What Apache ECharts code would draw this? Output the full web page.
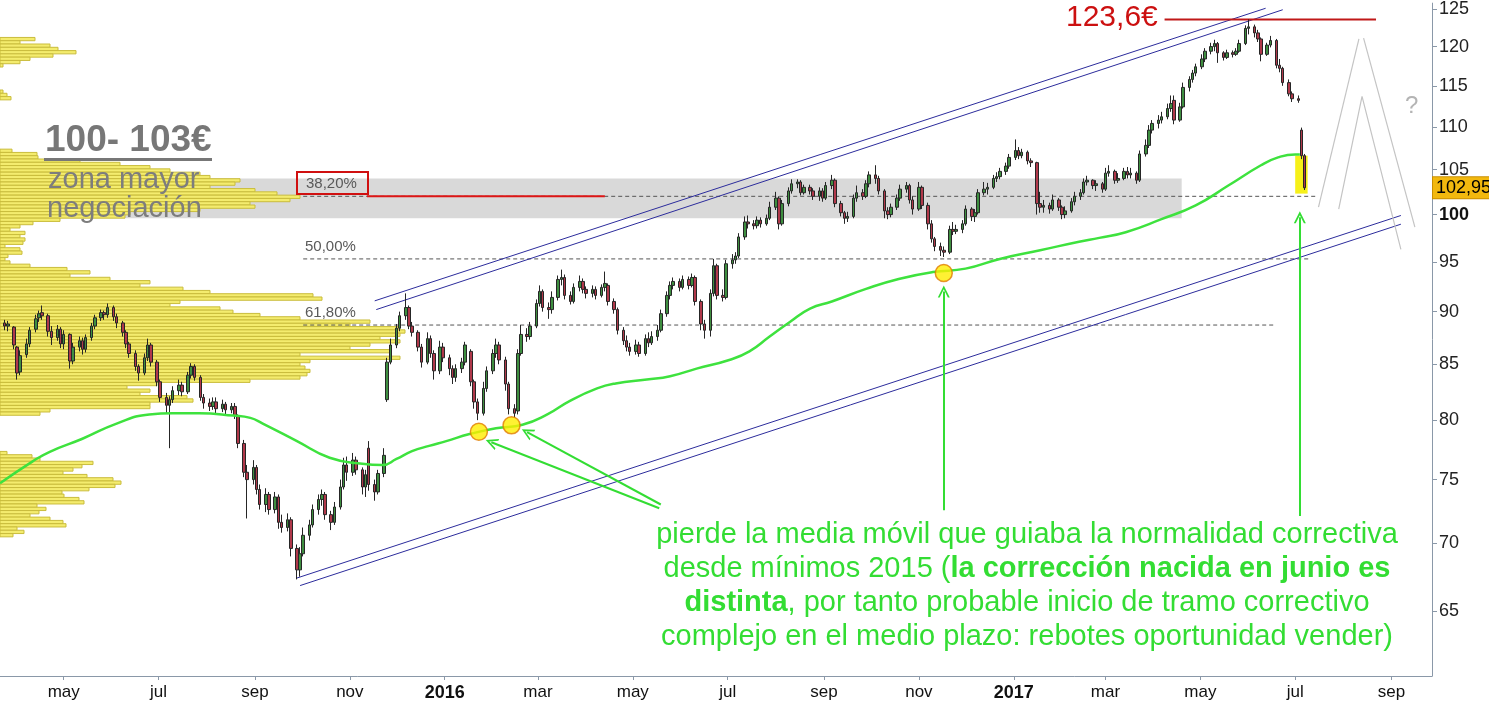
<!DOCTYPE html>
<html><head><meta charset="utf-8">
<script src="https://cdn.jsdelivr.net/npm/echarts@6/dist/echarts.min.js"></script>
<style>html,body{margin:0;padding:0;background:#fff}#c{width:1489px;height:703px}</style>
</head><body><div id="c"></div>
<script>
// ---------- DATA ----------
const monthTicks = ['2015-05-01','2015-07-01','2015-09-01','2015-11-01','2016-01-01','2016-03-01','2016-05-01','2016-07-01','2016-09-01','2016-11-01','2017-01-01','2017-03-01','2017-05-01','2017-07-01','2017-09-01'];
const monthNames = ['ene','feb','mar','abr','may','jun','jul','ago','sep','oct','nov','dic'];
const priceTicks = [65,70,75,80,85,90,95,100,105,110,115,120,125];

// one candle per two trading days, starting 2015-03-20: [open, close, low, high]
const ohlcA = [
[88.4,88.9,88.1,89.3],[88.9,88.6,88.2,89.2],[88.6,88.8,88.1,89.1],[88.5,86.8,86.4,88.6],[86.6,84.2,83.6,86.7],[84.3,85.8,84.0,86.3],[85.9,86.9,85.6,87.4],[86.9,88.2,86.6,88.5],[88.3,89.3,88.0,89.7],[89.4,89.8,89.0,90.1],
[89.9,89.6,89.2,90.6],[89.6,88.1,87.6,89.8],[88.1,87.5,86.8,88.6],[87.5,88.3,87.2,88.7],[88.3,86.9,86.5,88.5],[86.9,87.8,86.4,88.2],[87.8,85.3,84.6,87.9],[85.3,86.6,85.0,87.0],[86.6,87.2,86.2,87.6],[87.2,86.4,85.9,87.5],
[86.4,87.5,86.1,87.8],[87.5,88.6,87.2,88.9],[88.6,89.4,88.3,89.7],[89.4,89.9,89.1,90.2],[89.9,89.7,89.2,90.1],[89.7,90.4,89.4,90.8],[90.4,89.5,89.1,90.6],[89.5,88.9,88.4,89.8],[88.9,88.0,87.6,89.1],[88.0,86.9,86.5,88.2],
[86.9,86.0,85.6,87.1],[86.0,84.8,84.4,86.3],[84.8,84.2,83.5,85.0],[84.2,85.6,84.0,86.0],[85.6,86.8,85.3,87.4],[86.8,85.2,84.8,87.0],[85.2,83.4,83.0,85.4],[83.4,82.0,81.6,83.6],[82.0,81.3,80.6,82.4],[81.3,81.8,77.6,82.1],
[81.8,82.6,81.5,83.0],[82.6,83.1,82.2,83.6],[83.1,82.5,82.1,83.4],[82.5,84.0,82.3,84.3],[84.0,84.8,83.7,85.1],[84.8,83.8,83.5,85.0],[83.8,82.0,81.7,84.0],[82.0,81.5,81.0,82.3],[81.5,81.2,80.8,81.9],[81.2,81.6,80.9,82.0],
[81.6,81.0,80.6,82.0],[81.0,81.4,80.7,81.8],[81.4,80.9,80.5,81.6],[80.9,81.2,80.6,81.5],[81.2,80.4,80.1,81.5],[80.4,78.0,77.6,80.5],[78.0,75.6,75.2,78.3],[75.6,75.0,71.9,76.2],[75.0,76.0,74.6,76.6],[76.0,74.2,73.8,76.2],
[74.2,73.0,72.6,74.6],[73.0,73.8,72.4,74.3],[73.8,72.6,72.2,74.0],[72.6,73.6,72.3,74.0],[73.6,71.6,71.1,73.8],[71.6,71.2,70.8,72.2],[71.2,71.8,70.9,72.3],[71.8,69.6,69.0,72.0],[69.6,68.0,67.3,69.9],[68.0,69.2,67.5,69.7],
[69.2,70.6,69.0,71.2],[70.6,71.4,70.2,71.8],[71.4,72.6,71.2,73.0],[72.6,73.4,72.2,73.8],[73.4,73.8,72.9,74.2],[73.8,72.2,71.8,74.0],[72.2,71.6,71.0,72.5],[71.6,72.8,71.4,73.2],[72.8,74.4,72.6,75.0],[74.4,76.2,74.2,76.8],
[76.2,75.6,74.9,76.9],[75.6,76.6,75.3,77.2],[76.6,75.8,75.4,76.9],[75.8,74.4,73.8,76.0],[74.4,75.4,73.6,75.8],[77.6,74.6,74.1,78.2],[74.6,74.0,73.3,75.0],[74.0,75.5,73.8,75.8],[75.5,77.0,75.2,77.6],[81.8,85.2,81.6,85.6],
[85.2,86.8,85.0,87.4],[86.8,88.4,86.5,88.8],[88.4,89.6,88.1,90.0],[89.6,90.4,89.2,91.8],[90.4,88.6,88.3,90.6],[88.6,88.0,87.6,89.0],[88.0,86.6,86.2,88.2],[86.6,85.2,84.7,86.9],[85.2,87.4,85.0,88.0],[87.4,86.0,85.6,87.7]
];
const ohlcB = [
[86.0,84.4,83.6,86.3],[84.4,86.6,84.1,87.2],[86.6,85.6,85.2,87.0],[85.6,84.6,84.0,85.9],[84.6,83.8,83.2,84.9],[83.8,84.6,83.4,85.0],[84.6,85.2,84.2,85.6],[85.2,86.8,84.9,87.1],[86.2,83.4,83.0,86.4],[83.4,81.6,81.0,83.6],
[81.6,80.6,80.0,81.9],[80.6,82.8,80.4,83.4],[82.8,84.4,82.5,84.8],[84.4,86.0,84.1,86.4],[86.0,86.8,85.6,87.4],[86.8,85.4,85.0,87.1],[85.4,83.2,82.6,85.7],[83.2,81.0,80.5,83.4],[81.0,80.6,80.2,81.4],[80.8,86.0,80.5,86.4],
[86.0,87.8,85.8,88.7],[87.8,87.6,87.1,88.4],[87.6,88.6,87.3,89.0],[88.6,90.8,88.4,91.2],[90.8,92.0,90.5,92.6],[92.0,90.4,90.0,92.2],[90.4,90.2,89.3,90.9],[90.2,91.4,89.8,92.0],[91.4,93.2,91.1,93.6],[93.2,93.4,92.6,94.2],
[93.4,91.6,91.2,93.7],[91.6,91.0,90.7,92.0],[91.0,92.4,90.8,92.8],[92.4,93.0,92.0,93.6],[93.0,92.2,91.8,93.3],[92.2,91.8,91.3,92.5],[91.8,92.2,91.4,92.6],[92.2,91.6,91.2,92.5],[91.6,92.4,91.4,92.7],[92.4,92.8,92.0,94.0],
[92.6,91.0,90.6,92.8],[91.0,90.2,89.8,91.3],[90.2,88.2,87.8,90.4],[88.2,87.2,86.8,88.5],[87.2,86.6,86.2,87.7],[86.6,86.2,85.8,87.0],[86.2,86.8,85.9,87.3],[86.8,86.0,85.7,87.1],[86.0,87.4,85.8,87.8],[87.4,87.0,86.6,88.0],
[87.0,87.6,86.8,88.1],[87.6,88.2,87.2,88.7],[88.2,89.8,88.0,90.2],[89.8,91.6,89.5,92.0],[91.6,92.6,91.2,93.0],[92.6,93.0,92.2,93.4],[93.0,92.4,92.0,93.3],[92.4,93.2,92.2,93.6],[93.2,92.6,92.2,93.5],[92.6,93.4,92.4,93.8],
[93.4,91.0,90.6,93.6],[91.0,88.8,88.2,91.2],[88.8,88.2,87.4,89.2],[88.2,91.8,87.6,92.2],[91.8,94.6,91.5,95.3],[94.6,91.6,91.2,94.8],[91.6,91.4,91.0,92.2],[91.4,94.8,91.2,95.2],[94.8,95.2,94.3,95.8],[95.2,95.6,94.8,96.0],
[95.6,97.6,95.4,98.0],[97.6,99.2,97.3,99.8],[99.2,99.0,98.5,99.9],[99.0,98.8,98.4,99.4],[98.8,99.4,98.5,99.8],[99.4,99.0,98.6,99.7],[99.0,99.6,98.8,100.0],[99.6,100.8,99.4,101.4],[100.8,101.8,100.5,102.5],[101.8,99.0,98.4,102.0],
[99.0,101.2,98.8,101.6],[101.2,102.6,100.9,103.0],[102.6,103.4,102.3,103.9],[103.4,103.6,102.9,103.9],[103.6,102.4,102.1,103.8],[102.4,103.0,102.2,103.3],[103.0,102.6,102.2,103.3],[102.6,102.0,101.6,102.9],[102.0,102.6,101.5,103.0],[102.6,101.8,101.4,102.9],
[101.8,103.2,101.6,103.6],[103.2,103.8,102.8,104.4],[103.8,101.2,100.8,104.0],[101.2,100.2,99.8,101.5],[100.2,99.6,99.0,100.4],[99.6,99.8,99.2,100.3],[99.8,101.8,99.6,102.2],[101.8,102.4,101.4,103.2],[102.4,102.0,101.6,102.8],[102.0,103.4,101.8,103.8]
];
const ohlcC = [
[103.4,104.4,103.0,104.8],[104.4,104.0,103.4,105.5],[104.0,102.6,102.2,104.3],[102.6,100.4,99.6,102.8],[100.4,100.0,99.5,100.8],[100.0,100.8,99.7,101.2],[100.8,101.8,100.5,102.2],[101.8,102.8,101.5,103.3],[102.8,103.2,102.4,103.6],[103.2,101.6,101.2,103.4],
[101.6,100.6,100.0,102.0],[100.6,103.0,100.4,103.6],[103.0,101.0,100.6,103.2],[101.0,99.0,98.4,101.3],[99.0,97.4,97.0,99.4],[97.4,96.6,96.1,97.6],[96.6,96.2,95.6,97.0],[96.2,96.0,95.5,96.6],[96.0,98.4,95.8,98.8],[98.4,98.2,97.8,99.2],
[98.2,98.4,97.9,98.9],[98.4,99.0,98.0,99.4],[99.0,100.6,98.8,101.0],[100.6,99.8,99.3,100.8],[99.8,100.2,99.2,100.6],[100.2,102.4,100.0,102.8],[102.4,102.8,102.1,103.6],[102.8,103.0,102.2,103.5],[103.0,104.0,102.8,104.4],[104.0,104.2,103.6,104.7],
[104.2,104.8,103.9,105.2],[104.8,105.4,104.4,105.8],[105.4,106.4,105.1,106.8],[106.4,107.2,106.1,108.5],[107.2,106.6,106.2,107.6],[106.6,107.0,106.3,107.4],[107.0,106.0,105.6,107.2],[106.0,105.8,105.3,106.3],[105.8,101.2,100.0,105.9],[101.2,100.8,100.2,102.5],
[100.8,101.0,100.2,101.6],[101.0,100.6,100.1,101.3],[100.6,101.6,100.4,102.2],[101.6,100.8,100.4,101.8],[100.8,100.0,99.5,101.0],[100.0,100.4,99.6,100.9],[100.4,101.4,100.2,101.8],[101.4,102.0,101.0,102.5],[102.0,102.4,101.6,102.8],[102.4,103.6,102.2,104.0],
[103.6,103.8,103.2,104.3],[103.8,103.2,102.8,103.9],[103.2,103.4,102.6,103.8],[103.4,102.8,102.4,103.6],[102.8,104.6,102.6,105.2],[104.6,104.8,104.2,105.5],[104.8,103.8,103.4,105.0],[103.8,104.0,103.5,104.6],[104.0,104.8,103.8,105.2],[104.8,104.4,104.0,105.3],
[104.4,104.6,104.0,105.2],[104.6,103.8,103.4,104.8],[103.8,106.8,103.6,107.2],[106.8,107.8,106.5,108.5],[107.8,109.6,107.5,110.2],[109.6,110.4,109.2,110.8],[110.4,110.8,109.8,111.4],[110.8,111.2,110.4,111.8],[111.2,112.2,110.9,112.8],[112.2,112.8,111.8,113.8],
[113.2,110.8,110.3,113.8],[110.8,112.4,110.6,112.9],[112.4,114.8,112.2,115.4],[114.8,115.8,114.3,116.2],[115.8,116.6,115.4,117.0],[116.6,117.4,116.2,117.8],[117.4,118.4,117.1,119.0],[118.4,119.4,118.0,119.8],[119.4,120.0,119.0,120.5],[120.0,120.4,119.4,120.9],
[120.4,119.2,117.9,120.6],[119.2,118.6,118.2,119.4],[118.6,119.2,118.4,119.6],[119.2,119.0,118.6,119.5],[119.0,119.4,118.8,119.8],[119.4,120.4,119.2,120.9],[120.4,122.4,120.2,122.8],[122.4,122.6,121.6,123.6],[122.6,121.8,121.2,122.9],[121.8,121.0,120.6,122.2],
[121.0,119.0,118.1,121.2],[119.0,120.2,118.8,120.5],[120.2,120.8,119.9,121.4],[120.8,117.6,117.2,121.0],[117.6,117.2,116.7,118.4],[117.2,115.4,115.0,117.4],[115.4,114.0,113.7,115.8],[114.0,113.4,113.0,114.3],[113.4,113.2,112.9,113.8],[109.6,106.6,106.2,109.9],
[106.6,102.95,102.7,106.8]
];

// 200-session moving average
const maDates = ['2015-03-21','2015-04-11','2015-04-22','2015-05-13','2015-06-04','2015-06-25','2015-07-10','2015-07-27','2015-08-18','2015-08-29','2015-09-06','2015-09-28','2015-10-19','2015-11-09','2015-11-22','2015-12-01','2015-12-11','2015-12-22','2016-01-02','2016-01-17','2016-02-03','2016-02-20','2016-03-07','2016-03-21','2016-04-08','2016-04-20','2016-05-10','2016-05-25','2016-06-11','2016-07-02','2016-07-15','2016-07-28','2016-08-10','2016-08-23','2016-09-06','2016-09-28','2016-10-19','2016-11-10','2016-12-01','2016-12-23','2017-01-18','2017-02-12','2017-02-25','2017-03-14','2017-04-06','2017-04-28','2017-05-19','2017-06-09','2017-06-20','2017-07-01','2017-07-04'];
const maValues = [74.7,76.5,77.3,78.4,79.7,80.5,80.6,80.6,80.4,80.2,79.7,78.2,76.8,76.3,76.2,76.7,77.35,77.8,78.2,78.8,79.3,79.6,80.5,81.65,82.8,83.25,83.6,83.9,84.6,85.4,86.2,87.6,89.0,90.3,91.0,92.25,93.25,93.95,94.3,95.3,96.2,97.1,97.5,98.1,99.5,101.0,103.2,105.5,106.4,106.75,106.75];

// volume profile (price bins from the top, equal log spacing)
const profileTop = 121.2;
const profileRatio = 0.99644;
const profileWidths = [35,20,50,58,76,53,30,20,3,0,0,0,0,0,0,0,3,7,11,0,0,0,0,0,0,0,0,0,0,0,0,0,0,0,
12,37,38,80,120,150,170,200,210,240,235,210,255,277,300,290,250,255,200,130,125,60,33,20,10,25,20,25,23,5,20,22,8,5,10,30,67,90,70,110,150,140,183,210,313,322,180,170,220,233,260,300,370,350,400,405,400,380,400,370,350,390,300,400,310,300,305,310,307,300,250,157,127,150,140,187,193,150,150,50,40,
0,0,0,0,0,0,0,0,0,0,0,
7,32,40,93,82,73,63,87,113,121,115,89,62,64,79,84,37,46,39,30,50,63,66,17,24,13];

const supportPoints = [['2016-01-23',79.0],['2016-02-13',79.55],['2016-11-17',93.86]];
const fibLevels = [
  {label:'38,20%', price:102.0, from:'2015-10-02', to:'2017-07-15'},
  {label:'50,00%', price:95.3, from:'2015-10-02', to:'2017-07-10'},
  {label:'61,80%', price:88.7, from:'2015-10-02', to:'2017-06-18'}
];
const zone = {from:'2015-03-10', to:'2017-04-19', low:99.6, high:104.0};
const lastPrice = 102.95;
const topPrice = 123.6;
const upperChannel = [[['2015-11-17',91.06],['2017-06-12',125.1]],[['2015-11-18',90.2],['2017-06-23',124.9]]];
const lowerChannel = [[['2015-09-28',67.4],['2017-09-07',99.9]],[['2015-09-30',66.85],['2017-09-07',98.96]]];
const scenarioLines = [
  [['2017-07-16',100.8],['2017-08-11',121.0]],
  [['2017-08-14',121.1],['2017-09-16',98.65]],
  [['2017-07-29',100.6],['2017-08-13',113.7],['2017-09-07',96.3]]
];
const arrows = [
  [['2016-05-18',72.7],['2016-01-31',78.1]],
  [['2016-05-19',73.0],['2016-02-23',78.96]],
  [['2016-11-17',72.55],['2016-11-17',92.0]],
  [['2017-07-04',72.1],['2017-07-04',99.7]]
];
const highlight = {from:'2017-07-01', to:'2017-07-09', low:102.3, high:106.6};

// ---------- BUILD ----------
const t = s => { const p = s.split('-').map(Number); return new Date(p[0], p[1]-1, p[2] || 1).getTime(); };
const ohlc = ohlcA.concat(ohlcB, ohlcC);
const candleDates = [];
(function(){ const d = new Date(2015,2,20); for (let i=0;i<ohlc.length;i++){ candleDates.push(d.getTime()); let k=0; while(k<2){ d.setDate(d.getDate()+1); const w=d.getDay(); if(w!==0&&w!==6) k++; } } })();
const candleData = ohlc.map((c,i)=>[candleDates[i], c[0], c[1], c[2], c[3]]);
const maData = maDates.map((d,i)=>[t(d), maValues[i]]);
const profileData = [];
profileWidths.forEach((w,i)=>{ if(w>0){ const top = profileTop*Math.pow(profileRatio,i); profileData.push([w, top, top*profileRatio]); } });

const FONT = '"Liberation Sans", Arial, sans-serif';
const GREEN = '#33dd33';

function seg(points, style, z){
  return {type:'line', data: points.map(p=>[t(p[0]), p[1]]), symbol:'none', silent:true, z: z||3, lineStyle: style, animation:false};
}
function rectSeries(r, fill, z){
  return {type:'custom', silent:true, z:z, clip:true, data:[[t(r.from), t(r.to), r.low, r.high]], encode:{x:[0,1], y:[2,3]},
    renderItem:(p, api)=>{ const a = api.coord([api.value(0), api.value(3)]); const b = api.coord([api.value(1), api.value(2)]);
      return {type:'rect', shape:{x:a[0], y:a[1], width:b[0]-a[0], height:b[1]-a[1]}, style:{fill:fill}}; }};
}

const series = [];
series.push(rectSeries(zone, '#d9d9d9', 1));
series.push({type:'custom', xAxisIndex:1, yAxisIndex:0, silent:true, z:2, clip:true, data:profileData, encode:{x:0, y:[1,2]},
  renderItem:(p, api)=>{ const a = api.coord([0, api.value(1)]); const b = api.coord([api.value(0), api.value(2)]);
    return {type:'rect', shape:{x:a[0], y:a[1], width:b[0]-a[0], height:b[1]-a[1]}, style:{fill:'#f4ec6e', stroke:'#c9bc3c', lineWidth:1}}; }});
fibLevels.forEach(f=>series.push(seg([[f.from,f.price],[f.to,f.price]], {color:'#555', width:1, type:[4,3]}, 3)));
series.push(seg([['2015-11-12',fibLevels[0].price],['2016-04-13',fibLevels[0].price]], {color:'#dd1515', width:2}, 4));
series.push(seg([['2017-04-08',topPrice],['2017-08-22',topPrice]], {color:'#c01818', width:2}, 4));
upperChannel.concat(lowerChannel).forEach(l=>series.push(seg(l, {color:'#2c2c9c', width:1}, 3)));
scenarioLines.forEach(l=>series.push(seg(l, {color:'#c4c4c4', width:1.2}, 3)));
series.push(rectSeries(highlight, 'rgba(245,238,0,0.9)', 3));
series.push({type:'candlestick', data:candleData, barWidth:3, z:5, silent:true,
  itemStyle:{color:'#3e8e40', color0:'#b0384a', borderColor:'#262626', borderColor0:'#262626', borderWidth:1}});
// last-price tag on the price axis
series.push({type:'line', data:[], silent:true, z:8,
  markLine:{silent:true, symbol:'none', animation:false, lineStyle:{color:'rgba(0,0,0,0)', width:1, type:'solid'},
    label:{show:true, position:'end', distance:1, formatter:'102,95', backgroundColor:'#f2b80e', borderColor:'#c98e00', borderWidth:1, color:'#000', fontSize:18, fontFamily:FONT, padding:[2,3,1,3], opacity:1},
    data:[{yAxis:lastPrice}]}});
series.push({type:'line', data:maData, smooth:true, symbol:'none', silent:true, z:6, lineStyle:{color:'#3ee23e', width:2.5},
  markLine:{silent:true, animation:false, symbol:['none','path://M5,0 L10,10 L8.4,10 L5,3.2 L1.6,10 L0,10 Z'], symbolSize:[12,12],
    lineStyle:{color:GREEN, width:2, type:'solid'}, label:{show:false},
    data: arrows.map(a=>[{coord:[t(a[0][0]), a[0][1]]},{coord:[t(a[1][0]), a[1][1]]}])}});
series.push({type:'scatter', data:supportPoints.map(p=>[t(p[0]),p[1]]), symbolSize:17, z:7, silent:true,
  itemStyle:{color:'#ffee00', borderColor:'#e07a00', borderWidth:1.5}});

const txt = (text, x, y, font, fill, align) => ({type:'text', x:x, y:y, z:100, silent:true,
  style:{text:text, font:font, fill:fill, align:align||'left', textAlign:align||'left', verticalAlign:'middle', textVerticalAlign:'middle'}});
const gFont = '29px ' + FONT;
const rich = {n:{fontSize:29, fontFamily:FONT, fill:GREEN}, b:{fontSize:29, fontFamily:FONT, fill:GREEN, fontWeight:'bold'}};

const graphic = [
  txt('100- 103€', 45, 141, 'bold 37px ' + FONT, '#777777'),
  {type:'rect', z:100, silent:true, shape:{x:44, y:158, width:168, height:3}, style:{fill:'#777777'}},
  txt('zona mayor', 48, 180, '29px ' + FONT, '#7d7d7d'),
  txt('negociación', 47, 209, '29px ' + FONT, '#7d7d7d'),
  txt(fibLevels[0].label, 306, 184, '15px ' + FONT, '#5a5a5a'),
  txt(fibLevels[1].label, 305, 247, '15px ' + FONT, '#5a5a5a'),
  txt(fibLevels[2].label, 305, 313, '15px ' + FONT, '#5a5a5a'),
  {type:'rect', z:100, silent:true, shape:{x:297, y:172, width:71, height:22}, style:{fill:'none', stroke:'#d01010', lineWidth:2}},
  txt('123,6€', 1066, 18, '30px ' + FONT, '#cc1010'),
  txt('?', 1405, 106, '24px ' + FONT, '#b4b4b4'),
  txt('pierde la media móvil que guiaba la normalidad correctiva', 1027, 535, gFont, GREEN, 'center'),
  {type:'text', x:1027, y:569, z:100, silent:true, style:{text:'{n|desde mínimos 2015 (}{b|la corrección nacida en junio es}', rich:rich, align:'center', textAlign:'center', verticalAlign:'middle', textVerticalAlign:'middle'}},
  {type:'text', x:1027, y:603, z:100, silent:true, style:{text:'{b|distinta}{n|, por tanto probable inicio de tramo correctivo}', rich:rich, align:'center', textAlign:'center', verticalAlign:'middle', textVerticalAlign:'middle'}},
  txt('complejo en el medio plazo: rebotes oportunidad vender)', 1027, 637, gFont, GREEN, 'center')
];

const tickTimes = monthTicks.map(t);
const option = {
  animation:false,
  backgroundColor:'#ffffff',
  grid:{left:0, right:57, top:0, bottom:27, containLabel:false},
  xAxis:[
    {type:'value', min:t('2015-03-21'), max:t('2017-09-27'),
      axisLine:{show:true, onZero:false, lineStyle:{color:'#8a98a8', width:1}},
      axisTick:{show:true, length:4, customValues:tickTimes, lineStyle:{color:'#8a98a8'}},
      axisLabel:{customValues:tickTimes, margin:8, fontSize:17, color:'#111', fontFamily:FONT,
        formatter:(v)=>{ const d=new Date(v); return d.getMonth()===0 ? '{y|'+d.getFullYear()+'}' : monthNames[d.getMonth()]; },
        rich:{y:{fontWeight:'bold', fontSize:18, color:'#111', fontFamily:FONT}}},
      splitLine:{show:false}},
    {type:'value', min:0, max:1432, show:false}
  ],
  yAxis:{type:'log', logBase:10, position:'right', min:60.6, max:125.8,
    axisLine:{show:true, onZero:false, lineStyle:{color:'#8a98a8', width:1}},
    axisTick:{show:true, length:5, customValues:priceTicks, lineStyle:{color:'#8a98a8'}},
    axisLabel:{customValues:priceTicks, margin:7, fontSize:18, color:'#222', fontFamily:FONT,
      formatter:(v)=>{ const n=Math.round(v); return n===100 ? '{b|100}' : String(n); },
      rich:{b:{fontWeight:'bold', fontSize:18, color:'#111', fontFamily:FONT}}},
    splitLine:{show:false}},
  series:series,
  graphic:graphic
};
const chart = echarts.init(document.getElementById('c'));
chart.setOption(option);
</script>
</body></html>
